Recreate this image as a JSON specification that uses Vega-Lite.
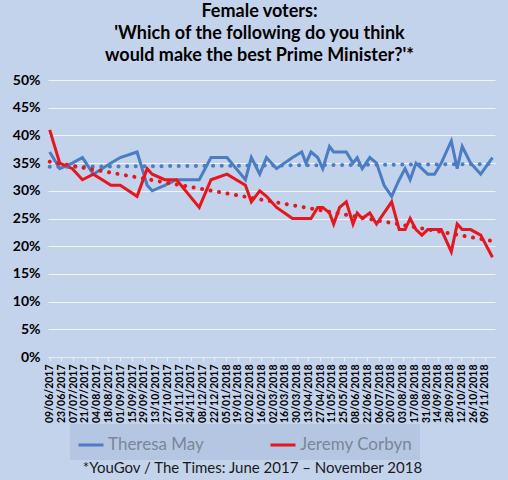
{
  "$schema": "https://vega.github.io/schema/vega-lite/v6.json",
  "autosize": "none",
  "padding": {"left": 48, "top": 80, "right": 13, "bottom": 123},
  "width": 447,
  "height": 277,
  "background": "#c4d3ec",
  "view": {"fill": null, "stroke": null},
  "title": {
    "text": ["Female voters:", "'Which of the following do you think", "would make the best Prime Minister?'*"],
    "anchor": "middle",
    "dx": -12,
    "offset": 8,
    "font": "Lato",
    "fontSize": 18,
    "fontWeight": "bold",
    "lineHeight": 22,
    "color": "#000000"
  },
  "data": {
    "format": {"parse": {"date": "date"}},
    "values": [
      {"date": "2017-06-09", "who": "Theresa May", "pct": 37}, {"date": "2017-06-09", "who": "Jeremy Corbyn", "pct": 41},
      {"date": "2017-06-21", "who": "Theresa May", "pct": 34}, {"date": "2017-06-21", "who": "Jeremy Corbyn", "pct": 35},
      {"date": "2017-07-06", "who": "Theresa May", "pct": 35}, {"date": "2017-07-06", "who": "Jeremy Corbyn", "pct": 34},
      {"date": "2017-07-18", "who": "Theresa May", "pct": 36}, {"date": "2017-07-18", "who": "Jeremy Corbyn", "pct": 32},
      {"date": "2017-07-31", "who": "Theresa May", "pct": 33}, {"date": "2017-07-31", "who": "Jeremy Corbyn", "pct": 33},
      {"date": "2017-08-21", "who": "Theresa May", "pct": 35}, {"date": "2017-08-21", "who": "Jeremy Corbyn", "pct": 31},
      {"date": "2017-09-01", "who": "Theresa May", "pct": 36}, {"date": "2017-09-01", "who": "Jeremy Corbyn", "pct": 31},
      {"date": "2017-09-21", "who": "Theresa May", "pct": 37}, {"date": "2017-09-21", "who": "Jeremy Corbyn", "pct": 29},
      {"date": "2017-10-03", "who": "Theresa May", "pct": 31}, {"date": "2017-10-03", "who": "Jeremy Corbyn", "pct": 34},
      {"date": "2017-10-09", "who": "Theresa May", "pct": 30}, {"date": "2017-10-09", "who": "Jeremy Corbyn", "pct": 33},
      {"date": "2017-10-24", "who": "Theresa May", "pct": 31}, {"date": "2017-10-24", "who": "Jeremy Corbyn", "pct": 32},
      {"date": "2017-11-07", "who": "Theresa May", "pct": 32}, {"date": "2017-11-07", "who": "Jeremy Corbyn", "pct": 32},
      {"date": "2017-12-04", "who": "Theresa May", "pct": 32}, {"date": "2017-12-04", "who": "Jeremy Corbyn", "pct": 27},
      {"date": "2017-12-18", "who": "Theresa May", "pct": 36}, {"date": "2017-12-18", "who": "Jeremy Corbyn", "pct": 32},
      {"date": "2018-01-06", "who": "Theresa May", "pct": 36}, {"date": "2018-01-06", "who": "Jeremy Corbyn", "pct": 33},
      {"date": "2018-01-28", "who": "Theresa May", "pct": 32}, {"date": "2018-01-28", "who": "Jeremy Corbyn", "pct": 31},
      {"date": "2018-02-04", "who": "Theresa May", "pct": 36}, {"date": "2018-02-04", "who": "Jeremy Corbyn", "pct": 28},
      {"date": "2018-02-14", "who": "Theresa May", "pct": 33}, {"date": "2018-02-14", "who": "Jeremy Corbyn", "pct": 30},
      {"date": "2018-02-22", "who": "Theresa May", "pct": 36}, {"date": "2018-02-22", "who": "Jeremy Corbyn", "pct": 29},
      {"date": "2018-03-06", "who": "Theresa May", "pct": 34}, {"date": "2018-03-06", "who": "Jeremy Corbyn", "pct": 27},
      {"date": "2018-03-25", "who": "Theresa May", "pct": 36}, {"date": "2018-03-25", "who": "Jeremy Corbyn", "pct": 25},
      {"date": "2018-04-05", "who": "Theresa May", "pct": 37}, {"date": "2018-04-05", "who": "Jeremy Corbyn", "pct": 25},
      {"date": "2018-04-10", "who": "Theresa May", "pct": 35}, {"date": "2018-04-10", "who": "Jeremy Corbyn", "pct": 25},
      {"date": "2018-04-16", "who": "Theresa May", "pct": 37}, {"date": "2018-04-16", "who": "Jeremy Corbyn", "pct": 25},
      {"date": "2018-04-24", "who": "Theresa May", "pct": 36}, {"date": "2018-04-24", "who": "Jeremy Corbyn", "pct": 27},
      {"date": "2018-04-30", "who": "Theresa May", "pct": 34}, {"date": "2018-04-30", "who": "Jeremy Corbyn", "pct": 27},
      {"date": "2018-05-08", "who": "Theresa May", "pct": 38}, {"date": "2018-05-08", "who": "Jeremy Corbyn", "pct": 26},
      {"date": "2018-05-13", "who": "Theresa May", "pct": 37}, {"date": "2018-05-13", "who": "Jeremy Corbyn", "pct": 24},
      {"date": "2018-05-20", "who": "Theresa May", "pct": 37}, {"date": "2018-05-20", "who": "Jeremy Corbyn", "pct": 27},
      {"date": "2018-05-28", "who": "Theresa May", "pct": 37}, {"date": "2018-05-28", "who": "Jeremy Corbyn", "pct": 28},
      {"date": "2018-06-05", "who": "Theresa May", "pct": 35}, {"date": "2018-06-05", "who": "Jeremy Corbyn", "pct": 24},
      {"date": "2018-06-10", "who": "Theresa May", "pct": 36}, {"date": "2018-06-10", "who": "Jeremy Corbyn", "pct": 26},
      {"date": "2018-06-16", "who": "Theresa May", "pct": 34}, {"date": "2018-06-16", "who": "Jeremy Corbyn", "pct": 25},
      {"date": "2018-06-25", "who": "Theresa May", "pct": 36}, {"date": "2018-06-25", "who": "Jeremy Corbyn", "pct": 26},
      {"date": "2018-07-03", "who": "Theresa May", "pct": 35}, {"date": "2018-07-03", "who": "Jeremy Corbyn", "pct": 24},
      {"date": "2018-07-12", "who": "Theresa May", "pct": 31}, {"date": "2018-07-12", "who": "Jeremy Corbyn", "pct": 26},
      {"date": "2018-07-21", "who": "Theresa May", "pct": 29}, {"date": "2018-07-21", "who": "Jeremy Corbyn", "pct": 28},
      {"date": "2018-07-30", "who": "Theresa May", "pct": 32}, {"date": "2018-07-30", "who": "Jeremy Corbyn", "pct": 23},
      {"date": "2018-08-06", "who": "Theresa May", "pct": 34}, {"date": "2018-08-06", "who": "Jeremy Corbyn", "pct": 23},
      {"date": "2018-08-12", "who": "Theresa May", "pct": 32}, {"date": "2018-08-12", "who": "Jeremy Corbyn", "pct": 25},
      {"date": "2018-08-19", "who": "Theresa May", "pct": 35}, {"date": "2018-08-19", "who": "Jeremy Corbyn", "pct": 23},
      {"date": "2018-08-26", "who": "Theresa May", "pct": 34}, {"date": "2018-08-26", "who": "Jeremy Corbyn", "pct": 22},
      {"date": "2018-09-02", "who": "Theresa May", "pct": 33}, {"date": "2018-09-02", "who": "Jeremy Corbyn", "pct": 23},
      {"date": "2018-09-10", "who": "Theresa May", "pct": 33}, {"date": "2018-09-10", "who": "Jeremy Corbyn", "pct": 23},
      {"date": "2018-09-18", "who": "Theresa May", "pct": 35}, {"date": "2018-09-18", "who": "Jeremy Corbyn", "pct": 23},
      {"date": "2018-09-30", "who": "Theresa May", "pct": 39}, {"date": "2018-09-30", "who": "Jeremy Corbyn", "pct": 19},
      {"date": "2018-10-07", "who": "Theresa May", "pct": 34}, {"date": "2018-10-07", "who": "Jeremy Corbyn", "pct": 24},
      {"date": "2018-10-13", "who": "Theresa May", "pct": 38}, {"date": "2018-10-13", "who": "Jeremy Corbyn", "pct": 23},
      {"date": "2018-10-23", "who": "Theresa May", "pct": 35}, {"date": "2018-10-23", "who": "Jeremy Corbyn", "pct": 23},
      {"date": "2018-11-04", "who": "Theresa May", "pct": 33}, {"date": "2018-11-04", "who": "Jeremy Corbyn", "pct": 22},
      {"date": "2018-11-18", "who": "Theresa May", "pct": 36}, {"date": "2018-11-18", "who": "Jeremy Corbyn", "pct": 18}
    ]
  },
  "encoding": {
    "x": {
      "field": "date",
      "type": "temporal",
      "scale": {
        "type": "utc",
        "domain": [
          {"year": 2017, "month": 6, "date": 7, "utc": true},
          {"year": 2018, "month": 11, "date": 21, "utc": true}
        ]
      },
      "axis": {
        "title": "*YouGov / The Times: June 2017 \u2013 November 2018",
        "titleFont": "Lato",
        "titleFontSize": 15,
        "titleFontWeight": "normal",
        "titleColor": "#1a1a1a",
        "titlePadding": 38,
        "titleX": 204,
        "titleAlign": "center",
        "format": "%d/%m/%Y",
        "labelAngle": 270,
        "labelFont": "Lato",
        "labelFontSize": 10.5,
        "labelFontWeight": "bold",
        "labelColor": "#000000",
        "labelPadding": 3,
        "labelOverlap": false,
        "labelFlush": false,
        "grid": false,
        "domainColor": "#e6ecf5",
        "tickColor": "#e6ecf5",
        "tickSize": 4,
        "values": [
          {"year": 2017, "month": 6, "date": 9, "utc": true},
          {"year": 2017, "month": 6, "date": 23, "utc": true},
          {"year": 2017, "month": 7, "date": 7, "utc": true},
          {"year": 2017, "month": 7, "date": 21, "utc": true},
          {"year": 2017, "month": 8, "date": 4, "utc": true},
          {"year": 2017, "month": 8, "date": 18, "utc": true},
          {"year": 2017, "month": 9, "date": 1, "utc": true},
          {"year": 2017, "month": 9, "date": 15, "utc": true},
          {"year": 2017, "month": 9, "date": 29, "utc": true},
          {"year": 2017, "month": 10, "date": 13, "utc": true},
          {"year": 2017, "month": 10, "date": 27, "utc": true},
          {"year": 2017, "month": 11, "date": 10, "utc": true},
          {"year": 2017, "month": 11, "date": 24, "utc": true},
          {"year": 2017, "month": 12, "date": 8, "utc": true},
          {"year": 2017, "month": 12, "date": 22, "utc": true},
          {"year": 2018, "month": 1, "date": 5, "utc": true},
          {"year": 2018, "month": 1, "date": 19, "utc": true},
          {"year": 2018, "month": 2, "date": 2, "utc": true},
          {"year": 2018, "month": 2, "date": 16, "utc": true},
          {"year": 2018, "month": 3, "date": 2, "utc": true},
          {"year": 2018, "month": 3, "date": 16, "utc": true},
          {"year": 2018, "month": 3, "date": 30, "utc": true},
          {"year": 2018, "month": 4, "date": 13, "utc": true},
          {"year": 2018, "month": 4, "date": 27, "utc": true},
          {"year": 2018, "month": 5, "date": 11, "utc": true},
          {"year": 2018, "month": 5, "date": 25, "utc": true},
          {"year": 2018, "month": 6, "date": 8, "utc": true},
          {"year": 2018, "month": 6, "date": 22, "utc": true},
          {"year": 2018, "month": 7, "date": 6, "utc": true},
          {"year": 2018, "month": 7, "date": 20, "utc": true},
          {"year": 2018, "month": 8, "date": 3, "utc": true},
          {"year": 2018, "month": 8, "date": 17, "utc": true},
          {"year": 2018, "month": 8, "date": 31, "utc": true},
          {"year": 2018, "month": 9, "date": 14, "utc": true},
          {"year": 2018, "month": 9, "date": 28, "utc": true},
          {"year": 2018, "month": 10, "date": 12, "utc": true},
          {"year": 2018, "month": 10, "date": 26, "utc": true},
          {"year": 2018, "month": 11, "date": 9, "utc": true}
        ]
      }
    },
    "y": {
      "field": "pct",
      "type": "quantitative",
      "scale": {"domain": [0, 50], "nice": false},
      "axis": {
        "title": null,
        "values": [0, 5, 10, 15, 20, 25, 30, 35, 40, 45, 50],
        "labelExpr": "datum.value + '%'",
        "labelFont": "Lato",
        "labelFontSize": 14,
        "labelFontWeight": "bold",
        "labelColor": "#000000",
        "labelPadding": 8,
        "ticks": false,
        "domain": false,
        "gridColor": "#ffffff",
        "gridOpacity": 0.75,
        "gridWidth": 1
      }
    },
    "color": {
      "field": "who",
      "type": "nominal",
      "scale": {"domain": ["Theresa May", "Jeremy Corbyn"], "range": ["#4a7dc2", "#e5161c"]},
      "legend": {
        "orient": "none",
        "legendX": 22,
        "legendY": 344,
        "direction": "horizontal",
        "title": null,
        "fillColor": "#b5c6e3",
        "padding": 7,
        "symbolType": "stroke",
        "symbolStrokeWidth": 3,
        "symbolSize": 625,
        "labelFont": "Lato",
        "labelFontSize": 17,
        "labelColor": "#7a8696",
        "labelOffset": 3,
        "columnPadding": 60
      }
    }
  },
  "layer": [
    {
      "mark": {"type": "line", "strokeWidth": 3, "strokeJoin": "miter"}
    },
    {
      "transform": [
        {"regression": "pct", "on": "date", "groupby": ["who"], "method": "linear"}
      ],
      "mark": {"type": "line", "strokeWidth": 4, "strokeCap": "round", "strokeDash": [0.1, 8.5]}
    }
  ]
}
